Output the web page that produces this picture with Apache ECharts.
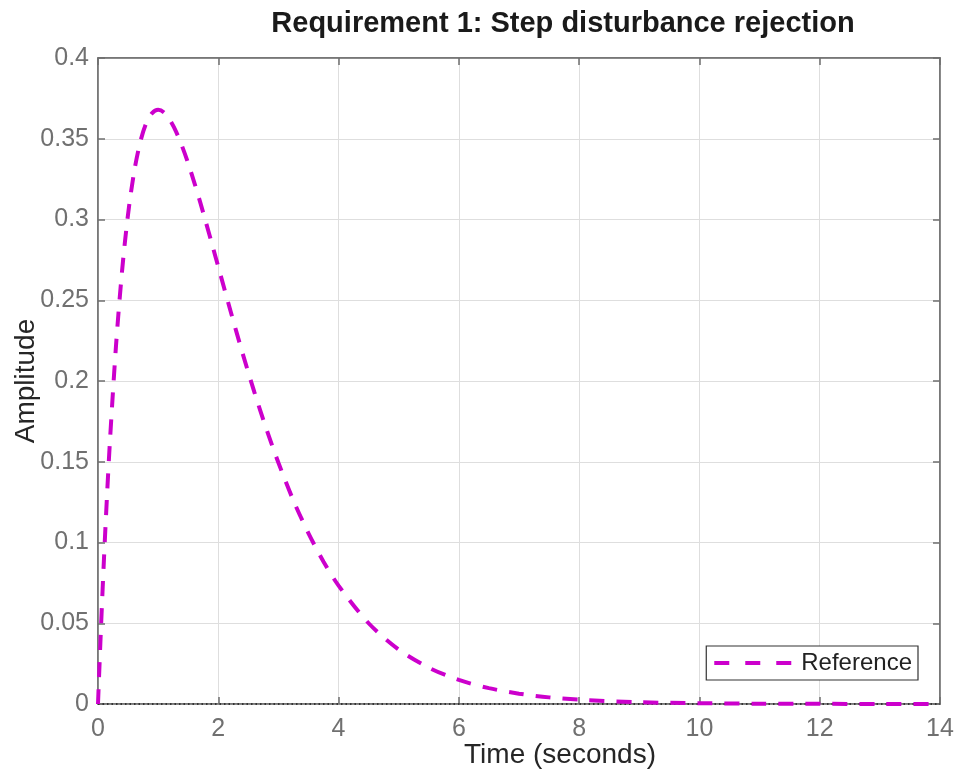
<!DOCTYPE html>
<html>
<head>
<meta charset="utf-8">
<script src="https://cdn.jsdelivr.net/npm/echarts@6/dist/echarts.min.js"></script>
<style>html,body{margin:0;padding:0;background:#fff}#c{width:959px;height:770px}</style>
</head>
<body>
<div id="c"></div>
<script>
var titleText = 'Requirement 1: Step disturbance rejection';
var xLabel = 'Time (seconds)';
var yLabel = 'Amplitude';
var seriesName = 'Reference';
var timeValues = [0, 0.05, 0.1, 0.15, 0.2, 0.3, 0.4, 0.5, 0.6, 0.7, 0.8, 0.9, 1.0, 1.1, 1.2, 1.3, 1.4, 1.5, 1.6, 1.7, 1.8, 1.9, 2.0, 2.2, 2.4, 2.6, 2.8, 3.0, 3.25, 3.5, 3.75, 4.0, 4.5, 5.0, 5.5, 6.0, 6.5, 7.0, 7.5, 8.0, 9, 10, 11, 12, 13, 14];
var amplitudeValues = [0, 0.0476, 0.0905, 0.1291, 0.1637, 0.2222, 0.2681, 0.3033, 0.3293, 0.3476, 0.3595, 0.3659, 0.3679, 0.3662, 0.3614, 0.3543, 0.3452, 0.3347, 0.3230, 0.3106, 0.2975, 0.2842, 0.2707, 0.2438, 0.2177, 0.1931, 0.1703, 0.1494, 0.1259, 0.1057, 0.0881, 0.0733, 0.0500, 0.0337, 0.0225, 0.0149, 0.0098, 0.0064, 0.0041, 0.0027, 0.0011, 0.0005, 0.0002, 0.0001, 0.00003, 0.00001];
var steadyStateX = [0, 14];
var steadyStateY = [0, 0];

var axisColor = '#6f6f6f';
var labelColor = '#707070';
var gridColor = '#dedede';
var fontFam = '"Liberation Sans", Arial, sans-serif';

var mainData = timeValues.map(function (t, i) { return [t, amplitudeValues[i]]; });
var steadyData = steadyStateX.map(function (t, i) { return [t, steadyStateY[i]]; });

var tickStyle = { show: true, inside: true, length: 7, lineStyle: { color: axisColor, width: 1.5 } };
var lineStyleAxis = { show: true, onZero: false, lineStyle: { color: axisColor, width: 1.5 } };

var chart = echarts.init(document.getElementById('c'));
chart.setOption({
  animation: false,
  backgroundColor: '#fff',
  title: {
    text: titleText,
    left: 558, top: 4, textAlign: 'center',
    textStyle: { fontFamily: fontFam, fontSize: 29, fontWeight: 'bold', color: '#1a1a1a' }
  },
  grid: {
    left: 98, right: 19, top: 58, bottom: 66,
    outerBoundsMode: 'none', containLabel: false,
    show: true, borderColor: axisColor, borderWidth: 1.5, backgroundColor: '#fff'
  },
  legend: {
    data: [seriesName],
    right: 41, bottom: 90,
    orient: 'horizontal',
    itemWidth: 86, itemHeight: 12, itemGap: 4,
    padding: [5, 6, 5, 6],
    borderColor: '#333', borderWidth: 1.2, borderRadius: 0,
    backgroundColor: '#fff',
    itemStyle: { opacity: 0 },
    lineStyle: { width: 4, type: [15, 16], color: '#cc00cc' },
    textStyle: { fontFamily: fontFam, fontSize: 24, color: '#222', padding: [0, 0, 0, -4] }
  },
  xAxis: [{
    type: 'value', min: 0, max: 14, interval: 2,
    name: xLabel, nameLocation: 'middle', nameGap: 37, nameMoveOverlap: false,
    nameTextStyle: { fontFamily: fontFam, fontSize: 28, color: '#262626', padding: [0, 0, 0, 82] },
    axisLine: lineStyleAxis,
    axisTick: tickStyle,
    axisLabel: { fontFamily: fontFam, fontSize: 25, color: labelColor, margin: 13 },
    splitLine: { show: true, lineStyle: { color: gridColor, width: 1 } }
  }, {
    type: 'value', min: 0, max: 14, interval: 2, position: 'top',
    axisLine: lineStyleAxis,
    axisTick: tickStyle,
    axisLabel: { show: false }, splitLine: { show: false }
  }],
  yAxis: [{
    type: 'value', min: 0, max: 0.4, interval: 0.05,
    name: yLabel, nameLocation: 'middle', nameGap: 58, nameMoveOverlap: false,
    nameTextStyle: { fontFamily: fontFam, fontSize: 28, color: '#262626' },
    axisLine: lineStyleAxis,
    axisTick: tickStyle,
    axisLabel: { fontFamily: fontFam, fontSize: 25, color: labelColor, margin: 9,
      formatter: function (v) { return String(+v.toFixed(2)); } },
    splitLine: { show: true, lineStyle: { color: gridColor, width: 1 } }
  }, {
    type: 'value', min: 0, max: 0.4, interval: 0.05, position: 'right',
    axisLine: lineStyleAxis,
    axisTick: tickStyle,
    axisLabel: { show: false }, splitLine: { show: false }
  }],
  series: [{
    name: 'steady', type: 'line', data: steadyData,
    showSymbol: false, symbol: 'none', silent: true, z: 3,
    lineStyle: { color: '#333', width: 2, type: [1.5, 3] }
  }, {
    name: seriesName, type: 'line', data: mainData,
    showSymbol: false, symbol: 'none', smooth: 0.3, z: 4, clip: false,
    lineStyle: { color: '#cc00cc', width: 4, type: [15, 12] },
    itemStyle: { color: '#cc00cc' }
  }]
});
</script>
</body>
</html>
